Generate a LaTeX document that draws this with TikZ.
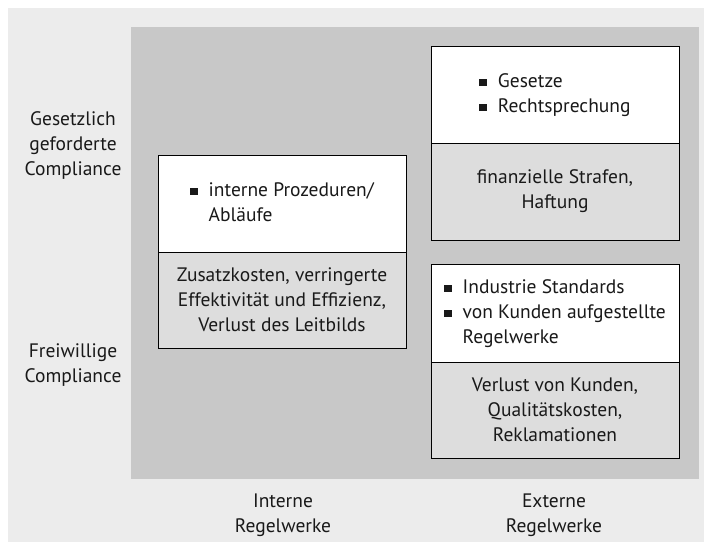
\documentclass[tikz,border=0pt]{standalone}
\usepackage{fontspec}
\setmainfont{PT Sans}
\usetikzlibrary{calc}
\pgfdeclarelayer{shade}
\pgfsetlayers{shade,main}
\definecolor{paneout}{gray}{0.925}
\definecolor{panein}{gray}{0.785}
\definecolor{celllow}{gray}{0.865}
\definecolor{shadowgray}{gray}{0.45}
\newcommand{\sqbullet}{\rule[1pt]{7.5pt}{7.5pt}}
\begin{document}
\begin{tikzpicture}[x=1pt,y=-1pt,
  txt/.style={font=\fontsize{19.5}{25}\selectfont, text=black!90},
  cellup/.style={txt, draw=black, line width=0.9pt, fill=white, inner sep=0pt, outer sep=0pt,
    minimum width=248pt, align=left},
  celldown/.style={txt, draw=black, line width=0.9pt, fill=celllow, inner sep=0pt, outer sep=0pt,
    minimum width=248pt, align=center, anchor=north},
  axislabel/.style={txt, align=center, inner sep=0pt}]
  \useasboundingbox (0,0) rectangle (704,542);
  \fill[paneout] (8,8) rectangle (704,542);
  \fill[panein] (131,27) rectangle (699,479);

  % internal rules
  \node[cellup, minimum height=97pt, anchor=north west] (intup) at (158,155)
    {\begin{tabular}{@{}l@{\hspace{11pt}}l@{}}\sqbullet & interne Prozeduren/\\ & Abläufe\end{tabular}};
  \node[celldown, minimum height=96pt] (intdown) at (intup.south)
    {Zusatzkosten, verringerte\\Effektivität und Effizienz,\\Verlust des Leitbilds};

  % external, legally required
  \node[cellup, minimum height=97pt, anchor=north west] (lawup) at (431,46)
    {\begin{tabular}{@{}l@{\hspace{11pt}}l@{}}\sqbullet & Gesetze\\ \sqbullet & Rechtsprechung\end{tabular}};
  \node[celldown, minimum height=97pt] (lawdown) at (lawup.south)
    {finanzielle Strafen,\\Haftung};

  % external, voluntary
  \node[cellup, minimum height=98pt, anchor=north west] (stdup) at (431,264)
    {\begin{tabular}{@{}l@{\hspace{11pt}}l@{}}\sqbullet & Industrie Standards\\ \sqbullet & von Kunden aufgestellte\\ & Regelwerke\end{tabular}};
  \node[celldown, minimum height=96pt] (stddown) at (stdup.south)
    {Verlust von Kunden,\\Qualitätskosten,\\Reklamationen};

  % shadows behind the cells
  \begin{pgfonlayer}{shade}
    \foreach \a/\b in {intup/intdown, lawup/lawdown, stdup/stddown}
      \fill[shadowgray] ($(\a.north west)+(2,2)$) rectangle ($(\b.south east)+(1.6,1.6)$);
  \end{pgfonlayer}

  % axis labels
  \node[axislabel] (lgesetz) at (73,146) {Gesetzlich\\geforderte\\Compliance};
  \node[axislabel] (lfrei) at (73,365) {Freiwillige\\Compliance};
  \node[axislabel] (lintern) at (283,515) {Interne\\Regelwerke};
  \node[axislabel] (lextern) at (554,515) {Externe\\Regelwerke};
\end{tikzpicture}
\end{document}
